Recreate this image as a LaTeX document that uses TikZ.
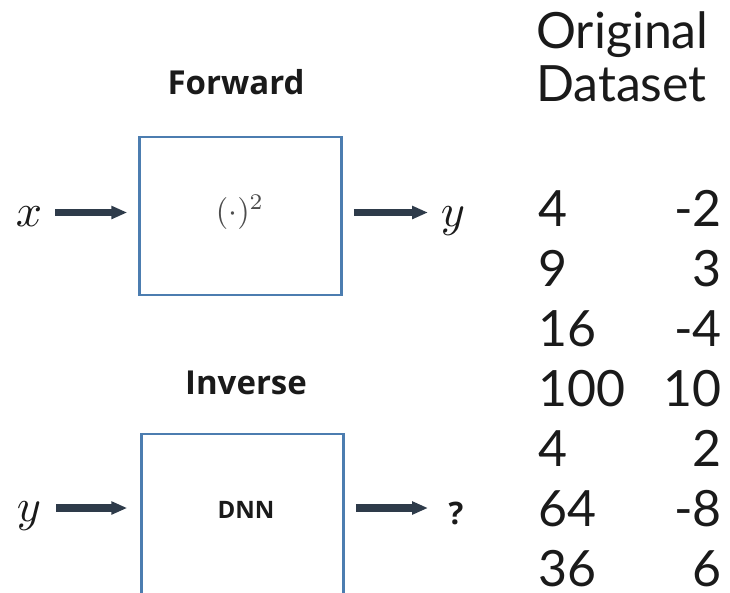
\documentclass[tikz,border=0pt]{standalone}
\usepackage{graphicx}
\usepackage{fontspec}
\usetikzlibrary{arrows.meta}
\newfontfamily\headfont{Open Sans}
\newfontfamily\datafont{Lato}
\definecolor{boxblue}{HTML}{4C7DB0}
\definecolor{arrowdark}{HTML}{2E3B4A}
\definecolor{ink}{HTML}{1A1A1A}
\begin{document}
\begin{tikzpicture}[x=1pt,y=-1pt,
  blockbox/.style={draw=boxblue,line width=2.5pt,minimum width=202pt,minimum height=158pt,inner sep=0pt},
  flowarrow/.style={draw=arrowdark,line width=7.5pt,-{Triangle[length=16pt,width=12.5pt]}},
  mathlab/.style={inner sep=0pt,anchor=base,text=ink},
  headlab/.style={inner sep=0pt,anchor=base,text=ink,font=\headfont\bfseries\fontsize{33}{36}\selectfont},
  datalab/.style={inner sep=0pt,anchor=base west,text=ink,font=\datafont\fontsize{50}{60}\selectfont},
  datarow/.style={inner sep=0pt,text=ink,font=\datafont\fontsize{50}{60}\selectfont}]
\useasboundingbox (0,0) rectangle (730,592);

% Forward mapping: x -> (.)^2 -> y
\node[headlab] (fwd) at (236,94) {Forward};
\node[blockbox] (sq) at (240.5,216) {};
\node[inner sep=0pt,text=black!70] (sqlab) at (240,212) {\scalebox{3.2}{$(\cdot)^2$}};
\node[mathlab] (xin) at (29,226) {\scalebox{4.6}{$x$}};
\node[mathlab] (yout) at (453,226) {\scalebox{4.6}{$y$}};
\coordinate (xstart) at (55,212.5);
\coordinate (yend) at (428,212.5);
\draw[flowarrow,shorten >=11pt] (xstart) -- (xstart -| sq.west);
\draw[flowarrow,shorten <=11pt] (sq.east |- yend) -- (yend);

% Inverse mapping: y -> DNN -> ?
\node[headlab] (inv) at (246,394) {Inverse};
\node[blockbox,minimum height=172pt] (dnn) at (242.5,520) {};
\node[inner sep=0pt,text=ink,font=\headfont\bfseries\fontsize{24}{28}\selectfont] (dnnlab) at (246,510) {DNN};
\node[mathlab] (yin) at (29,521) {\scalebox{4.6}{$y$}};
\node[inner sep=0pt,anchor=base,text=ink,font=\headfont\bfseries\fontsize{31}{34}\selectfont] (qout) at (456,524) {?};
\coordinate (ystart) at (56,508);
\coordinate (qend) at (428,508);
\draw[flowarrow,shorten >=13pt] (ystart) -- (ystart -| dnn.west);
\draw[flowarrow,shorten <=11pt] (dnn.east |- qend) -- (qend);

% Dataset of (x, y) pairs
\node[datalab] (title1) at (536,48) {Original};
\node[datalab] (title2) at (536,101) {Dataset};
\foreach \xv/\yv [count=\i] in {4/-2,9/3,16/-4,100/10,4/2,64/-8,36/6}{
  \node[datarow,anchor=base west] (xv\i) at (538,166+60*\i) {\xv};
  \node[datarow,anchor=base east] (yv\i) at (722,166+60*\i) {\yv};
}
\end{tikzpicture}
\end{document}
